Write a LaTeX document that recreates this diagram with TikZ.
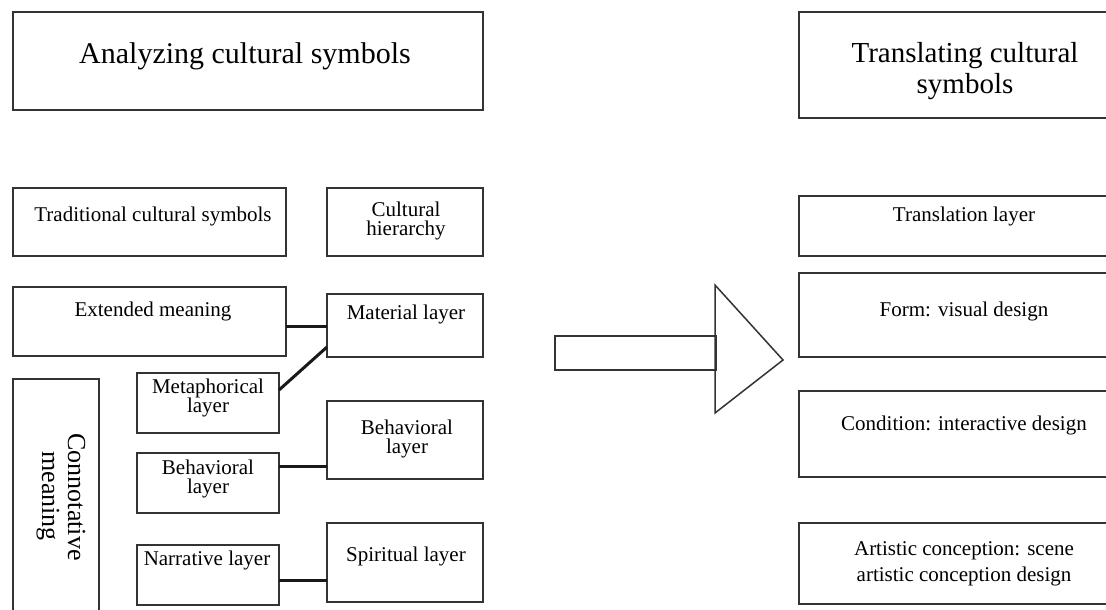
\documentclass[tikz,border=0pt]{standalone}
\usepackage{fontspec}
\setmainfont{Liberation Serif}
\usetikzlibrary{fit}
\begin{document}
\begin{tikzpicture}[x=1pt,y=-1pt,
  edgeln/.style={draw=black!80, line width=1.9pt},
  closedbox/.style={inner sep=0pt, outer sep=0pt, rectangle, draw=black!80, line width=1.9pt},
  openbox/.style={inner sep=0pt, outer sep=0pt, rectangle},
  conn/.style={draw=black!90, line width=3pt},
  txt/.style={inner sep=0pt, anchor=base, font=\fontsize{21}{21}\selectfont},
  bigtxt/.style={inner sep=0pt, anchor=base, font=\fontsize{30}{30}\selectfont},
  vtxt/.style={inner sep=0pt, anchor=base, rotate=-90, font=\fontsize{26}{26}\selectfont}]
\useasboundingbox (0,0) rectangle (1106,610);
\clip (0,0) rectangle (1106,610);

% ---- left column boxes
\node[closedbox, fit={(13,12) (483,110)}] (ana) {};
\node[closedbox, fit={(327,188) (483,256)}] (hier) {};
\node[closedbox, fit={(327,294) (483,357)}] (mat) {};
\node[closedbox, fit={(327,401) (483,479)}] (behR) {};
\node[closedbox, fit={(327,523) (483,602)}] (spir) {};
\node[closedbox, fit={(13,188) (286,256)}] (trad) {};
\node[closedbox, fit={(13,287) (286,356)}] (ext) {};
\node[closedbox, fit={(137,373) (279,433)}] (meta) {};
\node[closedbox, fit={(137,453) (279,513)}] (behL) {};
\node[closedbox, fit={(137,545) (279,605)}] (narr) {};

% open-bottom connotative box
\node[openbox, fit={(13,379) (99,620)}] (conno) {};
\draw[edgeln] (conno.south west) -- (conno.north west) -- (conno.north east) -- (conno.south east);

% ---- right column: boxes running past the right edge
\node[openbox, fit={(799,12) (1130,118)}] (trans) {};
\node[openbox, fit={(799,196) (1130,256)}] (tlayer) {};
\node[openbox, fit={(799,273) (1130,357)}] (form) {};
\node[openbox, fit={(799,391) (1130,477)}] (cond) {};
\node[openbox, fit={(799,523) (1130,604)}] (art) {};
\foreach \n in {trans,tlayer,form,cond,art}
  \draw[edgeln] (\n.north east) -- (\n.north west) -- (\n.south west) -- (\n.south east);

% ---- texts
\node[bigtxt] (tana) at (245,64) {Analyzing cultural symbols};
\node[bigtxt, font=\fontsize{29}{29}\selectfont] (ttrans1) at (965,63) {Translating cultural};
\node[bigtxt, font=\fontsize{29}{29}\selectfont] (ttrans2) at (965,93) {symbols};

\node[txt] (ttrad) at (153,221) {Traditional cultural symbols};
\node[txt] (thier1) at (406,216) {Cultural};
\node[txt] (thier2) at (406,235) {hierarchy};
\node[txt] (text) at (153,316) {Extended meaning};
\node[txt] (tmat) at (406,319) {Material layer};
\node[txt] (tmeta1) at (208,393) {Metaphorical};
\node[txt] (tmeta2) at (208,412) {layer};
\node[txt] (tbehL1) at (208,474) {Behavioral};
\node[txt] (tbehL2) at (208,493) {layer};
\node[txt] (tbehR1) at (407,434) {Behavioral};
\node[txt] (tbehR2) at (407,453) {layer};
\node[txt] (tnarr) at (207,565) {Narrative layer};
\node[txt] (tspir) at (406,561) {Spiritual layer};
\node[vtxt] (tcon1) at (68,497) {Connotative};
\node[vtxt] (tcon2) at (42,496) {meaning};

\node[txt] (ttl) at (964,221) {Translation layer};
\node[txt] (tform) at (964,316) {Form: visual design};
\node[txt] (tcond) at (964,430) {Condition: interactive design};
\node[txt] (tart1) at (964,555) {Artistic conception: scene};
\node[txt] (tart2) at (964,581) {artistic conception design};

% ---- connectors
\draw[conn] (ext.east |- 0,326) -- (mat.west |- 0,326);
\draw[conn] (meta.east |- 0,390) -- (mat.west |- 0,347);
\draw[conn] (behL.east |- 0,466) -- (behR.west |- 0,466);
\draw[conn] (narr.east |- 0,580) -- (spir.west |- 0,580);

% ---- big arrow
\draw[edgeln, line width=1.5pt] (555,336) rectangle (716,370);
\draw[edgeln, line width=1.5pt, line join=miter] (715,285) -- (783,360) -- (715,413) -- cycle;
\end{tikzpicture}
\end{document}
